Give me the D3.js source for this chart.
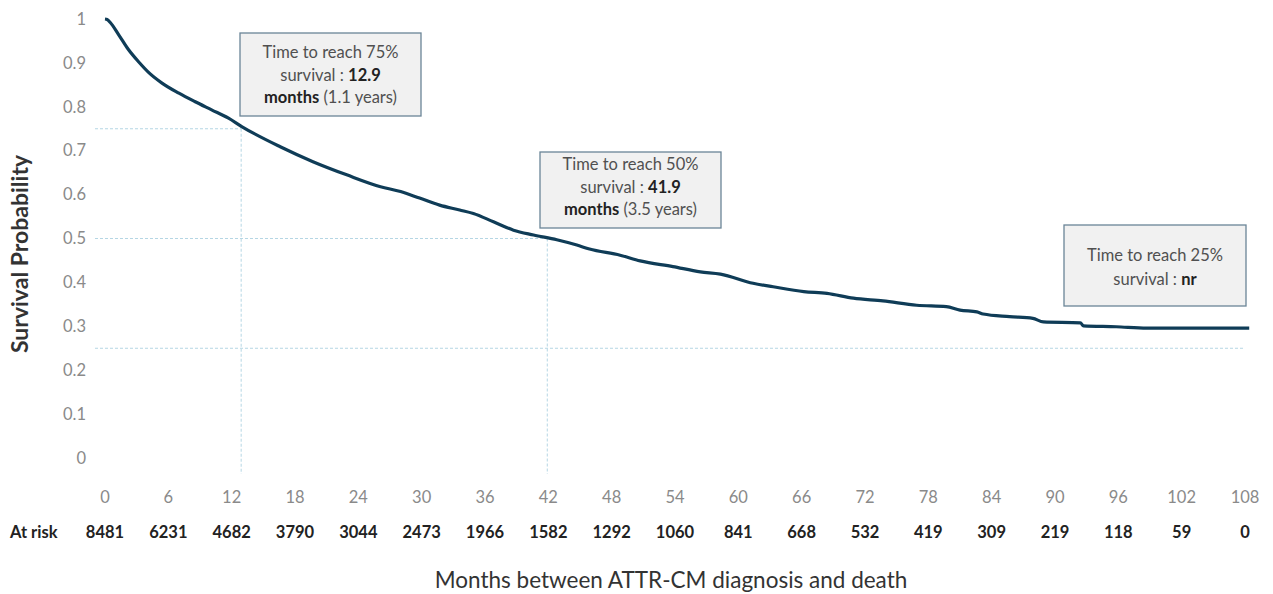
<!DOCTYPE html>
<html><head><meta charset="utf-8">
<script src="https://cdn.jsdelivr.net/npm/d3@7"></script>
<style>body{margin:0;background:#fff;} svg{display:block;font-family:Lato,"Open Sans",sans-serif;}</style>
</head><body>
<svg id="c" width="1273" height="594"></svg>
<script>
// Data
const months = [0, 0.2, 0.5, 1.3, 2.2, 3.2, 4.1, 5.4, 7.0, 8.5, 10.1, 11.7, 12.95, 16.6, 19.7, 22.9, 26.1, 28.0, 29.8, 31.7, 33.6, 34.9, 36.8, 38.7, 40.6, 42.8, 44.7, 45.9, 48.8, 50.7, 53.8, 56.4, 58.3, 61.4, 63.3, 66.2, 68.4, 70.9, 73.7, 76.9, 79.7, 81.0, 82.6, 83.2, 85.7, 87.9, 88.9, 92.4, 92.7, 95.8, 98.7, 108.4];
const survival = [1.0, 0.999, 0.992, 0.964, 0.931, 0.902, 0.879, 0.854, 0.831, 0.812, 0.793, 0.774, 0.755, 0.709, 0.675, 0.645, 0.618, 0.607, 0.592, 0.576, 0.565, 0.557, 0.538, 0.519, 0.508, 0.497, 0.485, 0.476, 0.462, 0.449, 0.436, 0.424, 0.419, 0.398, 0.390, 0.379, 0.375, 0.364, 0.358, 0.348, 0.345, 0.337, 0.333, 0.328, 0.322, 0.318, 0.310, 0.308, 0.301, 0.299, 0.296, 0.296];
const xTicks = [0, 6, 12, 18, 24, 30, 36, 42, 48, 54, 60, 66, 72, 78, 84, 90, 96, 102, 108];
const atRisk = [8481, 6231, 4682, 3790, 3044, 2473, 1966, 1582, 1292, 1060, 841, 668, 532, 419, 309, 219, 118, 59, 0];
const yTicks = [0, 0.1, 0.2, 0.3, 0.4, 0.5, 0.6, 0.7, 0.8, 0.9, 1];
const milestones = [
  {level: 0.75, time: 12.9},
  {level: 0.5, time: 41.9},
  {level: 0.25, time: null}
];
const boxes = [
  {lines: [[["Time to reach 75%", false]], [["survival : ", false], ["12.9", true]], [["months", true], [" (1.1 years)", false]]]},
  {lines: [[["Time to reach 50%", false]], [["survival : ", false], ["41.9", true]], [["months", true], [" (3.5 years)", false]]]},
  {lines: [[["Time to reach 25%", false]], [["survival : ", false], ["nr", true]]]}
];

const svg = d3.select("#c");
const x = d3.scaleLinear().domain([0, 108]).range([105, 1245]);
const y = d3.scaleLinear().domain([0, 1]).range([458, 19]);

// y tick labels
svg.append("g").selectAll("text").data(yTicks).join("text")
  .attr("x", 86).attr("y", d => y(d)).attr("dy", "0.35em")
  .attr("text-anchor", "end").attr("fill", "#8a8a8a").attr("font-size", 16.5)
  .text(d => d3.format("~g")(d));

// y title
svg.append("text").attr("transform", "translate(28,254) rotate(-90)")
  .attr("text-anchor", "middle").attr("font-size", 23).attr("font-weight", 700)
  .attr("fill", "#333").text("Survival Probability");

// reference dashed lines
const refG = svg.append("g").attr("stroke", "#b5d6e4").attr("stroke-width", 1).attr("stroke-dasharray", "3,2").attr("fill", "none");
milestones.forEach(m => {
  const xEnd = m.time == null ? x(108) : x(m.time);
  refG.append("line").attr("x1", 95).attr("x2", xEnd).attr("y1", y(m.level)).attr("y2", y(m.level));
  if (m.time != null) refG.append("line").attr("x1", x(m.time)).attr("x2", x(m.time)).attr("y1", y(m.level)).attr("y2", 474);
});

// curve
const pts = months.map((m, i) => [m, survival[i]]);
svg.append("path").datum(pts)
  .attr("d", d3.line().x(d => x(d[0])).y(d => y(d[1])).curve(d3.curveMonotoneX))
  .attr("fill", "none").attr("stroke", "#0f3c57").attr("stroke-width", 3.2)
  .attr("stroke-linejoin", "round");

// x tick labels
svg.append("g").selectAll("text").data(xTicks).join("text")
  .attr("x", d => x(d)).attr("y", 497).attr("dy", "0.35em")
  .attr("text-anchor", "middle").attr("fill", "#8a8a8a").attr("font-size", 16.5)
  .text(d => d);

// at risk
svg.append("text").attr("x", 10).attr("y", 532).attr("dy", "0.35em")
  .attr("font-size", 16.5).attr("font-weight", 700).attr("fill", "#222").text("At risk");
svg.append("g").selectAll("text").data(atRisk).join("text")
  .attr("x", (d, i) => x(xTicks[i])).attr("y", 532).attr("dy", "0.35em")
  .attr("text-anchor", "middle").attr("font-size", 16.5).attr("font-weight", 700).attr("fill", "#222")
  .text(d => d);

// x title
svg.append("text").attr("x", 671).attr("y", 580).attr("dy", "0.35em")
  .attr("text-anchor", "middle").attr("font-size", 22.5).attr("fill", "#333")
  .text("Months between ATTR-CM diagnosis and death");

// annotation boxes
const boxGeom = [
  {x0: 240, y0: 33, x1: 421, y1: 116, lineY: [52, 75, 97]},
  {x0: 540, y0: 152, x1: 721, y1: 228, lineY: [164, 187, 209]},
  {x0: 1064, y0: 225, x1: 1246, y1: 306, lineY: [255, 279]}
];
boxes.forEach((b, i) => {
  const g = boxGeom[i];
  svg.append("rect").attr("x", g.x0).attr("y", g.y0).attr("width", g.x1 - g.x0).attr("height", g.y1 - g.y0)
    .attr("fill", "#f1f1f1").attr("stroke", "#6a8597").attr("stroke-width", 1.3);
  b.lines.forEach((ln, j) => {
    const t = svg.append("text").attr("x", (g.x0 + g.x1) / 2).attr("y", g.lineY[j]).attr("dy", "0.35em")
      .attr("text-anchor", "middle").attr("font-size", 16.5);
    ln.forEach(([s, bold]) => t.append("tspan").text(s)
      .attr("font-weight", bold ? 700 : 400).attr("fill", bold ? "#222" : "#505050"));
  });
});
</script>
</body></html>
